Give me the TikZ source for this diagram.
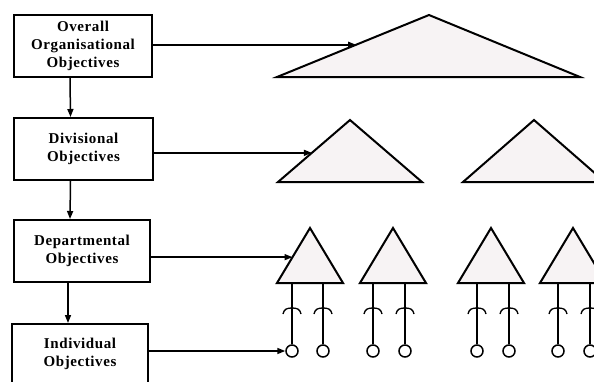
\documentclass[tikz,border=0pt]{standalone}
\usepackage{fontspec}
\newfontfamily\boxfont{Liberation Serif}[LetterSpace=4]
\usetikzlibrary{arrows.meta,calc}

\definecolor{trifill}{RGB}{247,243,244}
\tikzset{
	objbox/.style={draw, line width=2pt, align=center, inner sep=0pt,
		font=\boxfont\bfseries\fontsize{15}{18}\selectfont},
	tri/.style={draw, line width=2pt, line join=miter, fill=trifill},
	stem/.style={line width=1.6pt},
	joint/.style={draw, circle, line width=1.5pt, minimum size=12pt, inner sep=0pt, fill=white},
	link/.style={line width=1.5pt, -{Triangle[length=8pt,width=6pt]}}
}

\begin{document}
\begin{tikzpicture}[x=1pt,y=-1pt]
				\useasboundingbox (0,0) rectangle (594,381);
				
				\node[objbox, minimum width=138pt, minimum height=62pt] (overall) at (83,46) {Overall\\Organisational\\Objectives};
				\node[objbox, minimum width=139pt, minimum height=62pt] (division) at (83.5,149) {Divisional\\Objectives};
				\node[objbox, minimum width=136pt, minimum height=62pt] (depart) at (82,251) {Departmental\\Objectives};
				\node[objbox, minimum width=136pt, minimum height=60pt] (individual) at (80,354) {Individual\\Objectives};
				
				\draw[link] ([xshift=-13pt]overall.south) -- ([xshift=-13pt]division.north);
				\draw[link] ([xshift=-13pt]division.south) -- ([xshift=-12pt]depart.north);
				\draw[link] ([xshift=-14pt]depart.south) -- ([xshift=-12pt]individual.north);
				
				\coordinate (top-l) at (277,77);
				\coordinate (top-a) at (429,15);
				\coordinate (top-r) at (580,77);
				\draw[tri] (top-l) -- (top-a) -- (top-r) -- cycle;
				
				\coordinate (div1-l) at (278,182);
				\coordinate (div1-a) at (350,120);
				\coordinate (div1-r) at (422,182);
				\draw[tri] (div1-l) -- (div1-a) -- (div1-r) -- cycle;
				\draw[tri] (463,182) -- (534,120) -- (605,182) -- cycle;
				
				\foreach \n/\x/\sa/\sb in {a/310/292/323, b/393/373/405, c/491/477/509, d/573/558/590}{
					\coordinate (dep\n-l) at (\x-33,283);
					\coordinate (dep\n-a) at (\x,228);
					\draw[tri] (dep\n-l) -- (dep\n-a) -- (\x+33,283) -- cycle;
					\node[joint] (ind\n1) at (\sa,351) {};
					\node[joint] (ind\n2) at (\sb,351) {};
					\draw[stem] (ind\n1.north) -- (ind\n1.north |- dep\n-l);
					\draw[stem] (ind\n2.north) -- (ind\n2.north |- dep\n-l);
					\foreach \s in {\sa,\sb}
						\draw[line width=1.3pt] (\s-9,314) .. controls (\s-8,309) and (\s-5,308) .. (\s,308) .. controls (\s+5,308) and (\s+8,309) .. (\s+9,314);
				}
				
				\coordinate (tip1) at ($(top-l)!0.52!(top-a)$);
				\coordinate (tip2) at ($(div1-l)!0.47!(div1-a)$);
				\coordinate (tip3) at ($(depa-l)!0.47!(depa-a)$);
				\draw[link] (overall.east |- tip1) -- (tip1);
				\draw[link] (division.east |- tip2) -- (tip2);
				\draw[link] (depart.east |- tip3) -- (tip3);
				\draw[link] (individual.east |- inda1) -- (inda1.west);
\end{tikzpicture}
\end{document}
